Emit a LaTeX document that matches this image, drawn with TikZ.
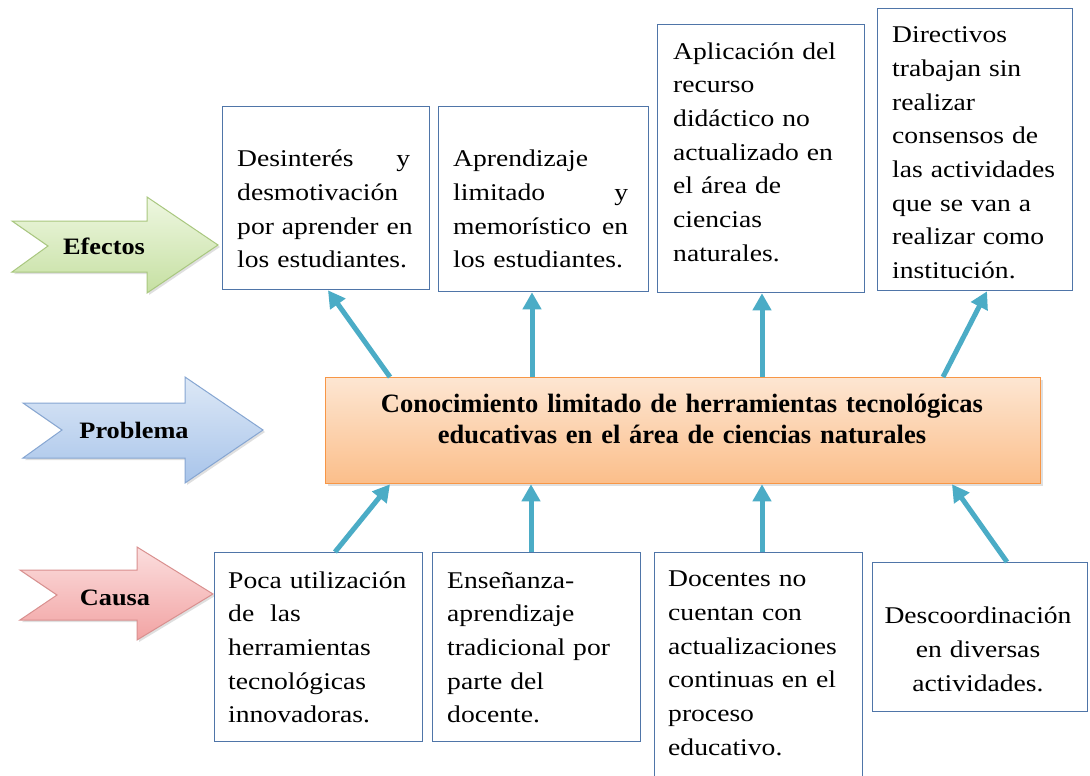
\documentclass[tikz,border=0pt]{standalone}
\usepackage{fontspec}
\setmainfont{Liberation Serif}
\newfontfamily\bodyf[FakeStretch=1.15]{Liberation Serif}
\newfontfamily\labf[FakeStretch=1.12]{Liberation Serif}
\usetikzlibrary{arrows.meta,shadows}
\definecolor{boxblue}{HTML}{4F75A8}
\definecolor{teal1}{HTML}{4BACC6}
\definecolor{orbord}{HTML}{F79646}
\definecolor{ortop}{HTML}{FDE6D2}
\definecolor{orbot}{HTML}{FBBE8A}
\definecolor{grtop}{HTML}{EEF7E1}
\definecolor{grbot}{HTML}{C6E0A2}
\definecolor{grbord}{HTML}{A9C77F}
\definecolor{bltop}{HTML}{DDE8F6}
\definecolor{blbot}{HTML}{A8C4EA}
\definecolor{blbord}{HTML}{86A6D2}
\definecolor{rdtop}{HTML}{FBDEDE}
\definecolor{rdbot}{HTML}{F2A3A3}
\definecolor{rdbord}{HTML}{D9908F}
\newcommand\jline[2]{\leavevmode\hbox to #1{#2}}
\tikzset{
  box/.style={draw=boxblue, line width=1.3pt, fill=white, inner sep=0pt, anchor=north west},
  btext/.style={inner sep=0pt, anchor=north west, text width=200pt, align=left,
    font=\bodyf\fontsize{24}{33.7}\selectfont},
  arr/.style={draw=teal1, line width=5pt, -{Triangle[length=17pt,width=18pt]}},
  lab/.style={inner sep=0pt, anchor=base, font=\labf\bfseries\fontsize{23.5}{28}\selectfont},
  shad/.style={drop shadow={opacity=0.25, shadow xshift=2pt, shadow yshift=-2pt}},
}
\begin{document}
\begin{tikzpicture}[x=1pt,y=-1pt]
\clip (0,0) rectangle (1090,776);
\fill[white] (0,0) rectangle (1090,776);

% left block arrows
\path[shad, draw=grbord, line width=1pt, top color=grtop, bottom color=grbot]
  (12,221) -- (147,221) -- (147,197) -- (218,245) -- (147,293) -- (147,272) -- (12,272) -- (48,246) -- cycle;
\node[lab] (lefe) at (104,254) {Efectos};
\path[shad, draw=blbord, line width=1pt, top color=bltop, bottom color=blbot]
  (23,403) -- (185,403) -- (185,377) -- (263,430) -- (185,483) -- (185,458) -- (23,458) -- (62,430) -- cycle;
\node[lab] (lpro) at (134,438) {Problema};
\path[shad, draw=rdbord, line width=1pt, top color=rdtop, bottom color=rdbot]
  (20,570) -- (137,570) -- (137,547) -- (213,594) -- (137,640) -- (137,620) -- (20,620) -- (57,595) -- cycle;
\node[lab] (lcau) at (115,605) {Causa};

% problem box
\node[shad, draw=orbord, line width=1.3pt, top color=ortop, bottom color=orbot,
      minimum width=715pt, minimum height=106pt, inner sep=0pt, anchor=north west] (p) at (325,377) {};
\node[inner sep=0pt, anchor=north, text width=700pt, align=center,
      font=\bfseries\fontsize{26.5}{31}\selectfont] (pt) at (682,390.8)
  {\strut Conocimiento limitado de herramientas tecnológicas\\ educativas en el área de ciencias naturales};

% effect boxes
\node[box, minimum width=207pt, minimum height=183pt] (e1) at (222,106) {};
\node[box, minimum width=210pt, minimum height=185pt] (e2) at (438,106) {};
\node[box, minimum width=207pt, minimum height=268pt] (e3) at (657,24) {};
\node[box, minimum width=195pt, minimum height=282pt] (e4) at (877,8) {};

\node[btext] (e1t) at (237,143) {\strut\jline{173pt}{Desinterés\hfill y}\\ desmotivación\\ por aprender en\\ los estudiantes.};
\node[btext] (e2t) at (453,143) {\strut Aprendizaje\\ \jline{175pt}{limitado\hfill y}\\ \jline{175pt}{memorístico\hfill en}\\ los estudiantes.};
\node[btext] (e3t) at (673,35.4) {\strut Aplicación del\\ recurso\\ didáctico no\\ actualizado en\\ el área de\\ ciencias\\ naturales.};
\node[btext] (e4t) at (892,18.9) {\strut Directivos\\ trabajan sin\\ realizar\\ consensos de\\ las actividades\\ que se van a\\ realizar como\\ institución.};

% cause boxes
\node[box, minimum width=208pt, minimum height=189pt] (c1) at (214,552) {};
\node[box, minimum width=208pt, minimum height=189pt] (c2) at (432,552) {};
\node[box, minimum width=208pt, minimum height=240pt] (c3) at (654,552) {};
\node[box, minimum width=215pt, minimum height=149pt] (c4) at (872,562) {};

\node[btext] (c1t) at (228,564.4) {\strut Poca utilización\\ de\ \ las\\ herramientas\\ tecnológicas\\ innovadoras.};
\node[btext] (c2t) at (447,564.4) {\strut Enseñanza-\\ aprendizaje\\ tradicional por\\ parte del\\ docente.};
\node[btext] (c3t) at (668,563) {\strut Docentes no\\ cuentan con\\ actualizaciones\\ continuas en el\\ proceso\\ educativo.};
\node[btext, anchor=north, align=center] (c4t) at (978,600) {\strut Descoordinación\\ en diversas\\ actividades.};

% arrows problem -> effects
\draw[arr] ([xshift=65pt]p.north west) -- ([xshift=106pt]e1.south west);
\draw[arr] ([xshift=207pt]p.north west) -- ([xshift=94pt]e2.south west);
\draw[arr] ([xshift=437pt]p.north west) -- ([xshift=105pt]e3.south west);
\draw[arr] ([xshift=618pt]p.north west) -- ([xshift=110pt]e4.south west);
% arrows causes -> problem
\draw[arr] ([xshift=121pt]c1.north west) -- ([xshift=65pt]p.south west);
\draw[arr] ([xshift=99pt]c2.north west) -- ([xshift=206pt]p.south west);
\draw[arr] ([xshift=108pt]c3.north west) -- ([xshift=437pt]p.south west);
\draw[arr] ([xshift=135pt]c4.north west) -- ([xshift=627pt]p.south west);
\end{tikzpicture}
\end{document}
